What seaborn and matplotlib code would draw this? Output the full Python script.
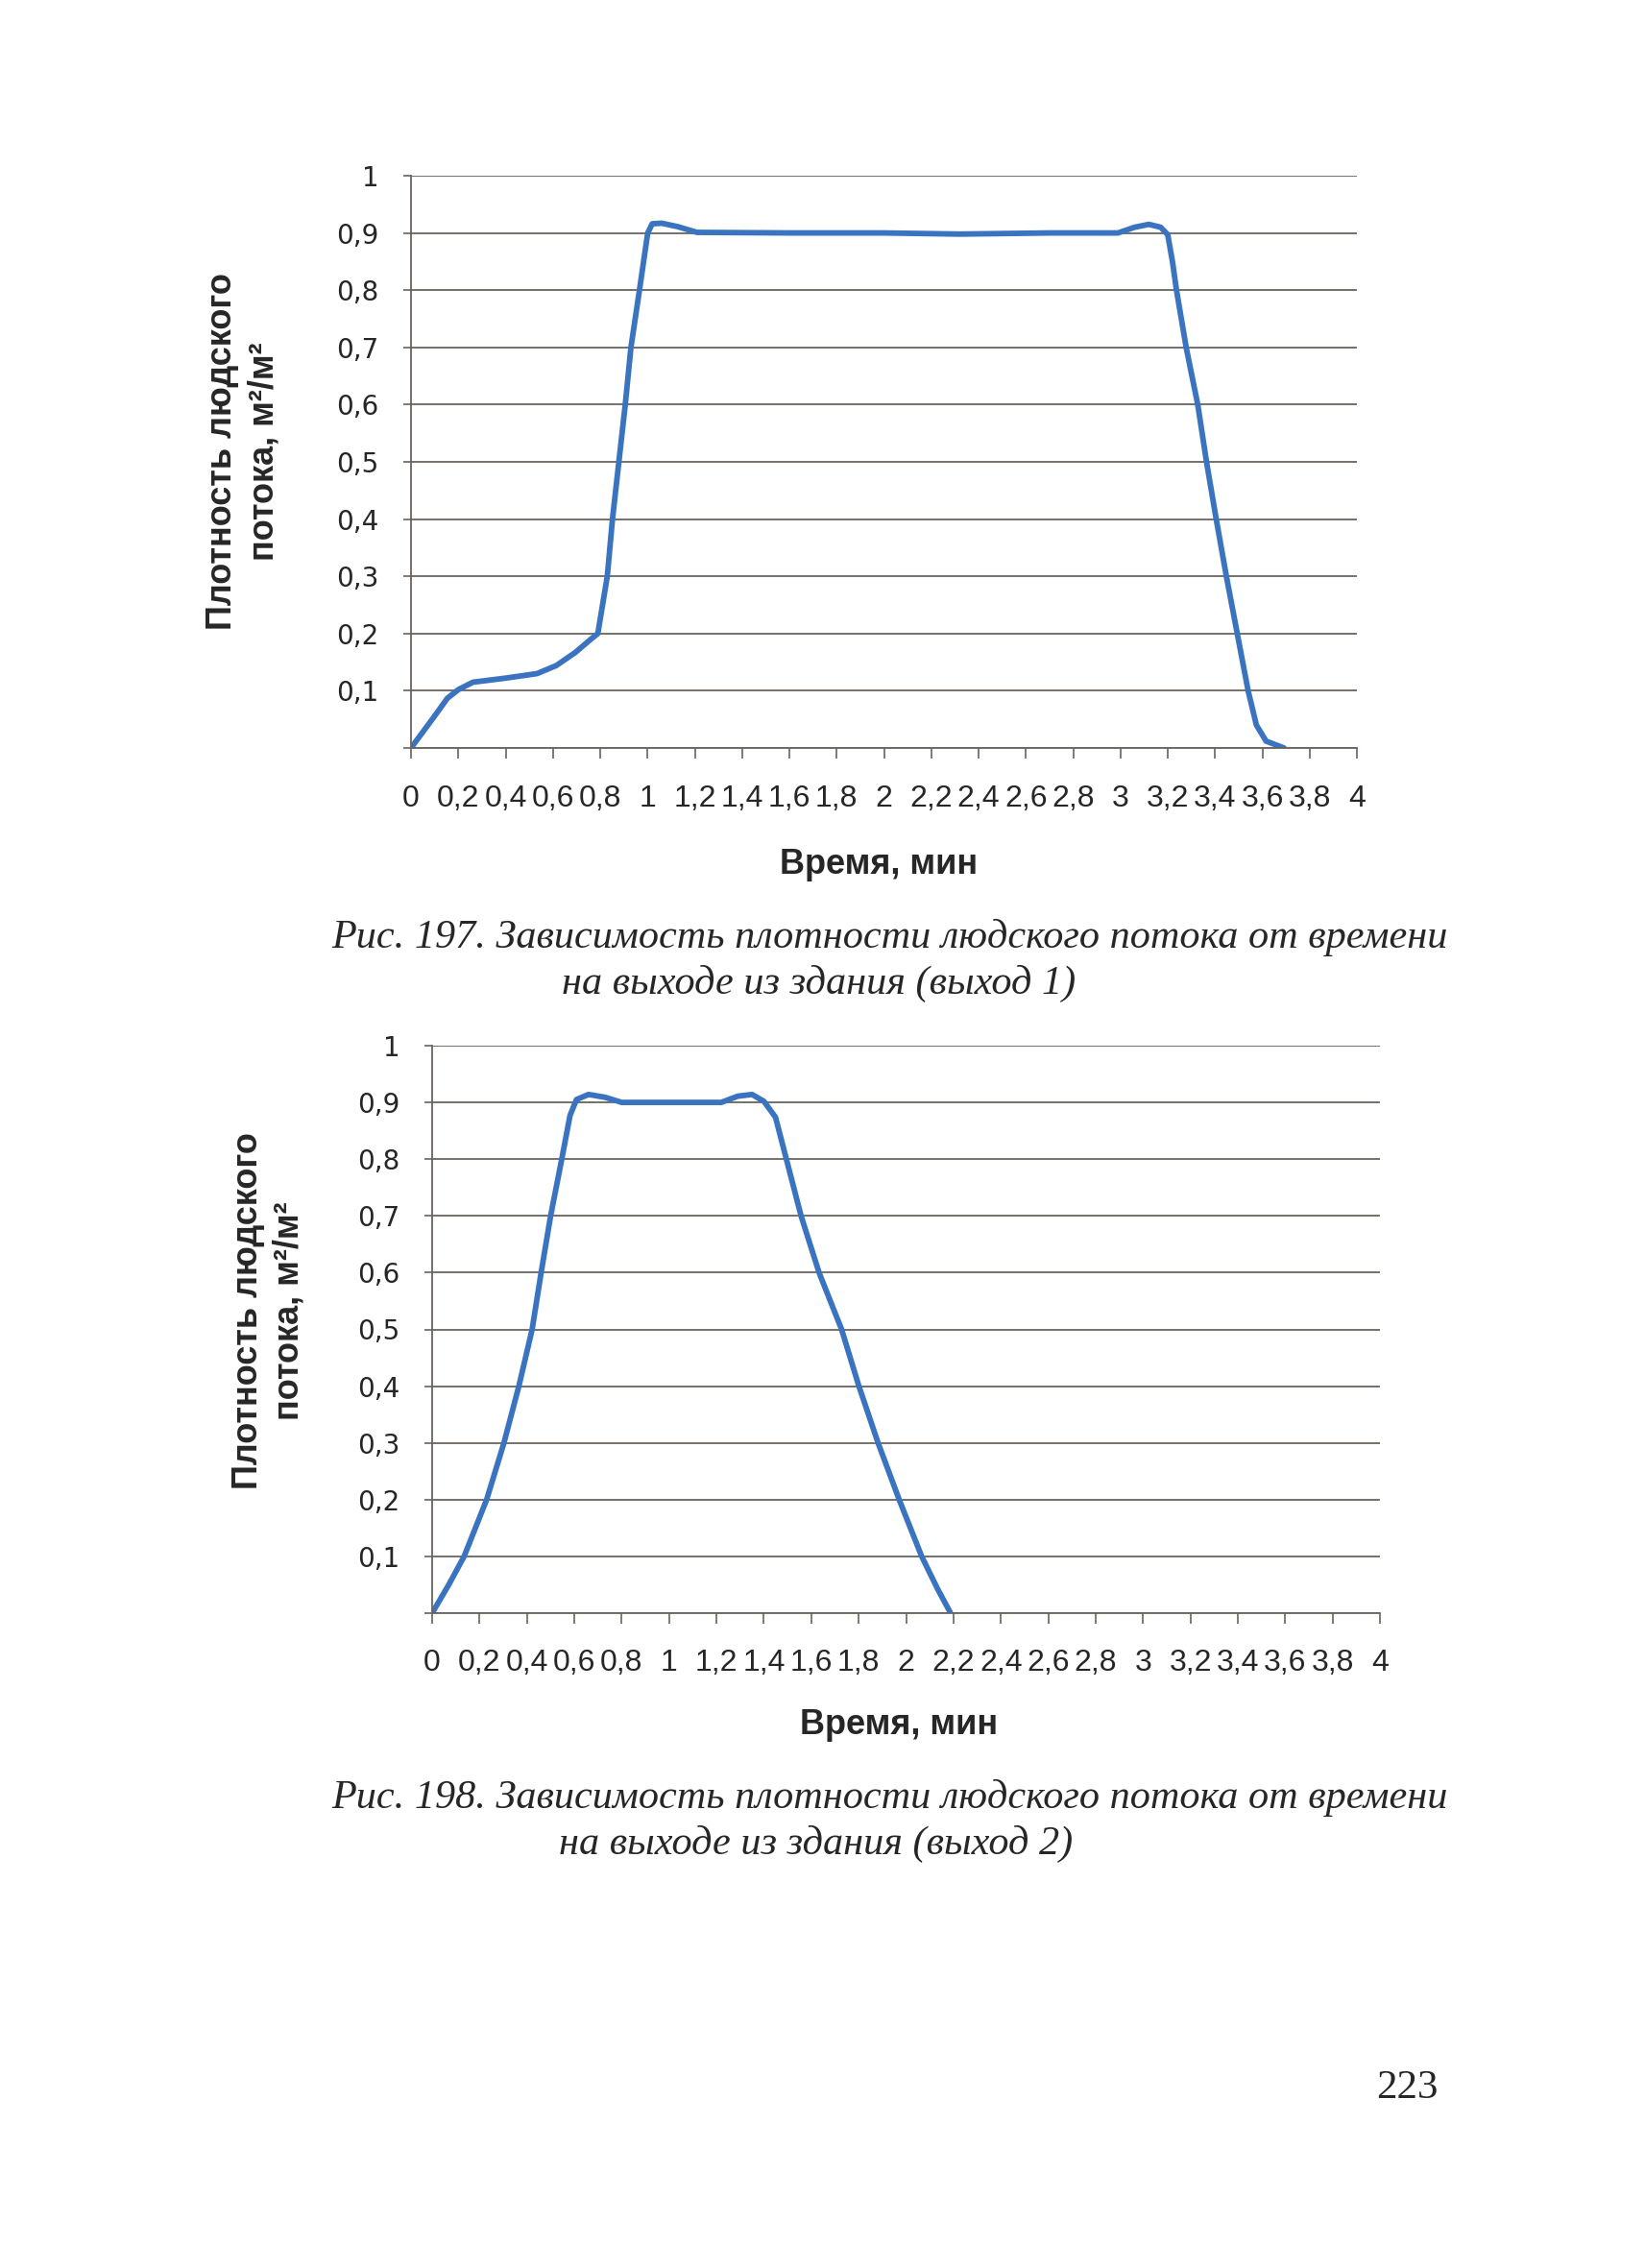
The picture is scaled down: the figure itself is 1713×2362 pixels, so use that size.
import numpy as np
import pandas as pd
import seaborn as sns
import matplotlib.pyplot as plt

# (time in minutes, density in m2/m2)
time1 = [0, 0.10, 0.154, 0.20, 0.262, 0.398, 0.533, 0.614, 0.695, 0.763, 0.790,
         0.830, 0.852, 0.879, 0.906, 0.930, 0.966, 1.001, 1.02, 1.06, 1.128,
         1.209, 1.6, 2.0, 2.32, 2.7, 2.99, 3.06, 3.12, 3.17, 3.20, 3.22, 3.237,
         3.278, 3.327, 3.364, 3.405, 3.448, 3.494, 3.540, 3.575, 3.616, 3.692]
dens1 = [0, 0.056, 0.087, 0.102, 0.115, 0.122, 0.130, 0.144, 0.167, 0.191, 0.20,
         0.30, 0.40, 0.50, 0.60, 0.70, 0.80, 0.90, 0.916, 0.917, 0.911,
         0.901, 0.90, 0.90, 0.898, 0.90, 0.90, 0.910, 0.915, 0.910, 0.897, 0.85, 0.80,
         0.70, 0.60, 0.50, 0.40, 0.30, 0.20, 0.10, 0.04, 0.012, 0]

time2 = [0, 0.07, 0.135, 0.23, 0.303, 0.366, 0.422, 0.46, 0.50, 0.547, 0.582,
         0.609, 0.66, 0.73, 0.80, 1.0, 1.22, 1.29, 1.35, 1.40, 1.449, 1.495,
         1.557, 1.633, 1.728, 1.801, 1.882, 1.971, 2.066, 2.134, 2.188]
dens2 = [0, 0.05, 0.10, 0.20, 0.30, 0.40, 0.50, 0.60, 0.70, 0.80, 0.877,
         0.905, 0.914, 0.909, 0.90, 0.90, 0.90, 0.911, 0.914, 0.902, 0.874, 0.80,
         0.70, 0.60, 0.50, 0.40, 0.30, 0.20, 0.10, 0.042, 0]

x_ticks = [0, 0.2, 0.4, 0.6, 0.8, 1, 1.2, 1.4, 1.6, 1.8, 2, 2.2, 2.4, 2.6, 2.8,
           3, 3.2, 3.4, 3.6, 3.8, 4]
x_labels = ["0", "0,2", "0,4", "0,6", "0,8", "1", "1,2", "1,4", "1,6", "1,8", "2",
            "2,2", "2,4", "2,6", "2,8", "3", "3,2", "3,4", "3,6", "3,8", "4"]
y_ticks = [0, 0.1, 0.2, 0.3, 0.4, 0.5, 0.6, 0.7, 0.8, 0.9, 1]
y_labels = ["", "0,1", "0,2", "0,3", "0,4", "0,5", "0,6", "0,7", "0,8", "0,9", "1"]

captions = [
    ("Рис. 197. Зависимость плотности людского потока от времени",
     "на выходе из здания (выход 1)"),
    ("Рис. 198. Зависимость плотности людского потока от времени",
     "на выходе из здания (выход 2)"),
]

sns.set_style("white")
plt.rcParams["font.family"] = ["DejaVu Sans"]

W, H = 1713, 2362
fig = plt.figure(figsize=(W / 100, H / 100), dpi=100)

line_color = "#3a74c0"
grid_color = "#6a6460"
narrow = ["Liberation Sans Narrow", "DejaVu Sans Condensed", "Liberation Sans"]
bold_sans = ["Liberation Sans", "DejaVu Sans"]
serif = ["Liberation Serif", "DejaVu Serif"]


def panel(rect, t, d, xlab_pos, ylab_pos):
    ax = fig.add_axes(rect)
    df = pd.DataFrame({"t": t, "d": d})
    sns.lineplot(data=df, x="t", y="d", ax=ax, color=line_color,
                 linewidth=4.2, sort=False)
    ax.set_xlim(0, 4)
    ax.set_ylim(0, 1)
    ax.set_xticks(x_ticks)
    ax.set_xticklabels(x_labels, family=narrow, fontsize=23)
    ax.set_yticks(y_ticks)
    ax.set_yticklabels(y_labels, fontsize=20)
    ax.yaxis.grid(True, color=grid_color, linewidth=1.3)
    ax.xaxis.grid(False)
    for s in ["top", "right"]:
        ax.spines[s].set_visible(False)
    for s in ["left", "bottom"]:
        ax.spines[s].set_color(grid_color)
        ax.spines[s].set_linewidth(1.3)
    ax.tick_params(axis="x", direction="out", length=8, width=1.2,
                   color=grid_color, pad=19, bottom=True)
    ax.tick_params(axis="y", direction="out", length=6, width=1.2,
                   color=grid_color, pad=18, left=True)
    ax.set_xlabel("Время, мин", fontsize=26, fontweight="bold", family=bold_sans)
    ax.set_ylabel("Плотность людского\nпотока, м²/м²", fontsize=26,
                  fontweight="bold", family=bold_sans, linespacing=1.3)
    ax.xaxis.set_label_coords(*xlab_pos)
    ax.yaxis.set_label_coords(*ylab_pos)
    ax.set_facecolor("white")
    return ax


panel([428 / W, 1 - 779 / H, 985 / W, 596 / H], time1, dens1,
      (0.494, -0.175), (-0.138, 0.518))
panel([450 / W, 1 - 1680 / H, 987 / W, 591 / H], time2, dens2,
      (0.492, -0.168), (-0.133, 0.533))

# captions
cap_y = [(976, 1024), (1872, 1920)]
cap_x = [(345, 585), (345, 582)]
for (l1, l2), (y1, y2), (x1, x2) in zip(captions, cap_y, cap_x):
    fig.text(x1 / W, 1 - y1 / H, l1, family=serif, style="italic",
             fontsize=30.4, ha="left", va="center")
    fig.text(x2 / W, 1 - y2 / H, l2, family=serif, style="italic",
             fontsize=30.4, ha="left", va="center")

fig.text(1465 / W, 1 - 2175 / H, "223", family=serif, fontsize=31,
         ha="center", va="center")

fig.savefig("out.png", dpi=100, facecolor="white")
